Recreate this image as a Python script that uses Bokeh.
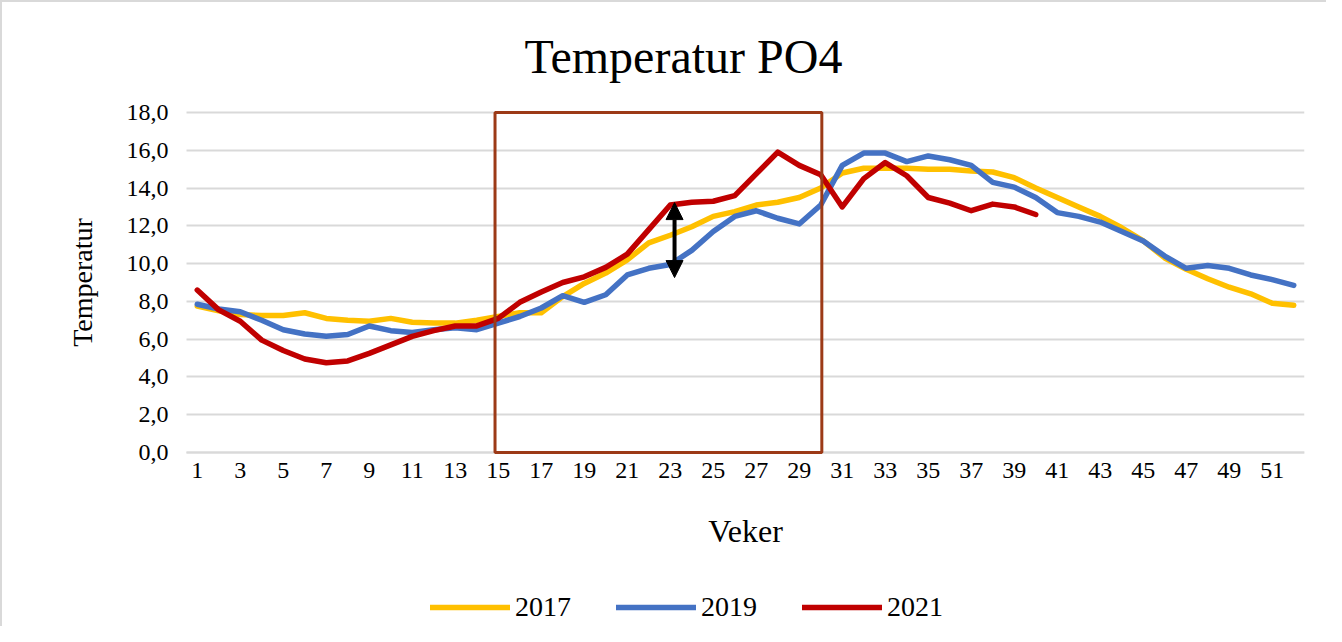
from bokeh.plotting import figure
from bokeh.models import (Legend, LegendItem, BoxAnnotation, Arrow, NormalHead,
                          FixedTicker, Title, Range1d)
from bokeh.embed import file_html
from bokeh.resources import INLINE

weeks = list(range(1, 53))

t2017 = [7.75, 7.5, 7.3, 7.25, 7.25, 7.4, 7.1, 7.0, 6.95, 7.1,
         6.9, 6.85, 6.85, 7.0, 7.2, 7.4, 7.4, 8.25, 8.95, 9.5,
         10.2, 11.1, 11.5, 11.95, 12.5, 12.75, 13.1, 13.25, 13.5, 14.0,
         14.8, 15.05, 15.05, 15.05, 15.0, 15.0, 14.9, 14.85, 14.55, 14.0,
         13.5, 13.0, 12.5, 11.9, 11.2, 10.3, 9.7, 9.2, 8.75, 8.4,
         7.9, 7.8]

t2019 = [7.85, 7.6, 7.45, 7.0, 6.5, 6.27, 6.15, 6.25, 6.7, 6.45,
         6.35, 6.5, 6.6, 6.5, 6.85, 7.2, 7.65, 8.3, 7.95, 8.35,
         9.4, 9.75, 9.95, 10.7, 11.7, 12.5, 12.8, 12.4, 12.1, 13.1,
         15.2, 15.85, 15.85, 15.4, 15.7, 15.5, 15.2, 14.3, 14.05, 13.5,
         12.7, 12.5, 12.2, 11.7, 11.2, 10.4, 9.75, 9.9, 9.75, 9.4,
         9.15, 8.85]

t2021 = [8.6, 7.55, 6.95, 5.95, 5.4, 4.95, 4.75, 4.85, 5.25, 5.7,
         6.15, 6.45, 6.7, 6.7, 7.1, 7.95, 8.5, 9.0, 9.3, 9.8,
         10.5, 11.8, 13.1, 13.25, 13.3, 13.6, 14.75, 15.9, 15.2, 14.7,
         13.0, 14.5, 15.35, 14.65, 13.5, 13.2, 12.8, 13.15, 13.0, 12.6]

series_names = ["2017", "2019", "2021"]
series_colors = ["#FFC000", "#4472C4", "#C00000"]

x_ticks = list(range(1, 53, 2))
y_ticks = list(range(0, 19, 2))
y_labels = {v: f"{v},0" for v in y_ticks}

highlight_weeks = (14.85, 30.05)
arrow_week = 23.2
arrow_span = (9.26, 13.23)

FONT = "Liberation Serif"

# layout (pixels, within the figure)
FIG_W, FIG_H = 1326, 626
FRAME_TOP = 94            # top of the drawing frame
AREA_TOP = 110            # top of plotting area (value 18)
AREA_LEFT = 184           # left of plotting area
AREA_W, AREA_H = 1118, 340
RIGHT_PAD = FIG_W - AREA_LEFT - AREA_W
X0, X1 = 0.5, 52.5
Y0, Y1 = 0.0, 18.0
px_x = AREA_W / (X1 - X0)
px_y = AREA_H / (Y1 - Y0)
x_start = X0 - AREA_LEFT / px_x
y_end = Y1 + (AREA_TOP - FRAME_TOP) / px_y
y_start = Y0 - (FIG_H - AREA_TOP - AREA_H) / px_y

p = figure(width=FIG_W, height=FIG_H, output_backend="svg", toolbar_location=None,
           x_range=Range1d(x_start, X1), y_range=Range1d(y_start, y_end),
           min_border_left=0, min_border_right=RIGHT_PAD, min_border_top=FRAME_TOP,
           min_border_bottom=0)
p.outline_line_color = None
p.background_fill_color = "white"
p.border_fill_color = "white"
p.styles = {"border-left": "2px solid #d9d9d9", "border-top": "2px solid #d9d9d9"}

title = Title(text="Temperatur  PO4", align="left", offset=522,
              text_font=FONT, text_font_size="48px", text_font_style="normal",
              text_color="#000000", standoff=28)
p.add_layout(title, "above")

p.xgrid.grid_line_color = None
p.ygrid.grid_line_color = "#d9d9d9"
p.ygrid.grid_line_width = 2
p.ygrid.ticker = FixedTicker(ticks=y_ticks)
p.ygrid.bounds = (Y0, Y1)
p.ygrid.cross_bounds = (X0, X1)

p.xaxis.fixed_location = Y0
p.xaxis.bounds = (X0, X1)
p.xaxis.ticker = FixedTicker(ticks=x_ticks)
p.xaxis.axis_line_color = "#d9d9d9"
p.xaxis.axis_line_width = 2
p.xaxis.major_tick_line_color = None
p.xaxis.minor_tick_line_color = None
p.xaxis.major_tick_out = 0
p.xaxis.major_label_standoff = 10
p.xaxis.major_label_text_font = FONT
p.xaxis.major_label_text_font_size = "24px"
p.xaxis.major_label_text_color = "#000000"
p.xaxis.axis_label = "Veker"
p.xaxis.axis_label_text_font = FONT
p.xaxis.axis_label_text_font_size = "32px"
p.xaxis.axis_label_text_font_style = "normal"
p.xaxis.axis_label_text_color = "#000000"
p.xaxis.axis_label_standoff = 32

p.yaxis.fixed_location = X0
p.yaxis.bounds = (Y0, Y1)
p.yaxis.ticker = FixedTicker(ticks=y_ticks)
p.yaxis.major_label_overrides = y_labels
p.yaxis.axis_line_color = None
p.yaxis.major_tick_line_color = None
p.yaxis.minor_tick_line_color = None
p.yaxis.major_tick_out = 0
p.yaxis.major_label_standoff = 18
p.yaxis.major_label_text_font = FONT
p.yaxis.major_label_text_font_size = "24px"
p.yaxis.major_label_text_color = "#000000"
p.yaxis.axis_label = "Temperatur"
p.yaxis.axis_label_text_font = FONT
p.yaxis.axis_label_text_font_size = "28px"
p.yaxis.axis_label_text_font_style = "normal"
p.yaxis.axis_label_text_color = "#000000"
p.yaxis.axis_label_standoff = 26

items = []
for name, color, vals in zip(series_names, series_colors, [t2017, t2019, t2021]):
    r = p.line(weeks[:len(vals)], vals, line_color=color, line_width=5.5,
               line_join="round", line_cap="round")
    items.append(LegendItem(label=name, renderers=[r]))

box = BoxAnnotation(left=highlight_weeks[0], right=highlight_weeks[1], bottom=Y0, top=Y1,
                    fill_alpha=0, line_color="#9C3A17", line_alpha=1.0, line_width=3)
p.add_layout(box)

arr = Arrow(x_start=arrow_week, y_start=arrow_span[0], x_end=arrow_week, y_end=arrow_span[1],
            line_color="black", line_width=4,
            start=NormalHead(size=17, fill_color="black", line_color="black"),
            end=NormalHead(size=17, fill_color="black", line_color="black"))
p.add_layout(arr)

legend = Legend(items=items, orientation="horizontal", location=(428, 5),
                glyph_width=80, glyph_height=20, label_standoff=5, spacing=45,
                label_text_font=FONT, label_text_font_size="28px",
                label_text_color="#000000", border_line_color=None,
                background_fill_alpha=0, margin=0, padding=0)
p.add_layout(legend, "center")

open("out.html", "w").write(file_html(p, INLINE))
